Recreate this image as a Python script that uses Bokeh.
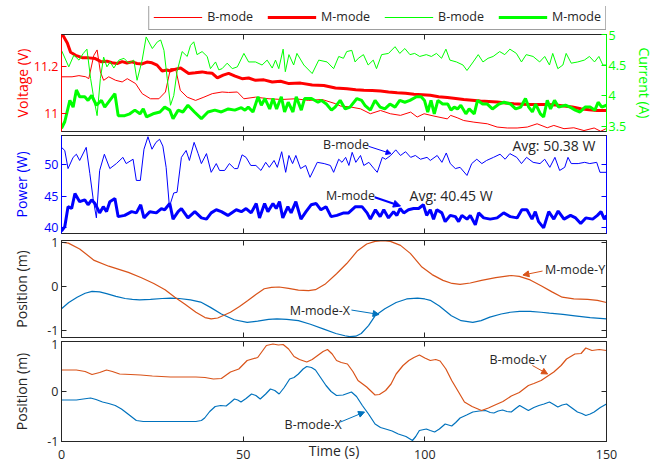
from bokeh.plotting import figure
from bokeh.layouts import column
from bokeh.models import (Range1d, LinearAxis, FixedTicker, NumeralTickFormatter,
                          Legend, LegendItem, Label, Arrow, NormalHead)
from bokeh.embed import file_html
from bokeh.resources import INLINE

# ---------------- data (time s, value) ----------------
M_VOLT = [(0, 11.336), (0.5, 11.33), (1.6, 11.30), (2.5, 11.26), (3.9, 11.247), (5.7, 11.237), (7.5, 11.236),
          (9.3, 11.233), (11, 11.219), (12.5, 11.222), (13.9, 11.215), (15.3, 11.212), (16.7, 11.22), (18, 11.214),
          (19.4, 11.219), (20.8, 11.212), (22.2, 11.21), (23.5, 11.218), (24.9, 11.215), (26.3, 11.205),
          (27.7, 11.18), (29, 11.184), (30, 11.18), (31.4, 11.188), (32.8, 11.193), (34, 11.18), (35, 11.169),
          (36.8, 11.172), (38.7, 11.176), (40, 11.172), (41.5, 11.17), (42.9, 11.15), (44.5, 11.162), (46, 11.17),
          (47.8, 11.158), (49.7, 11.147), (51.5, 11.15), (53.4, 11.14), (55.7, 11.142), (58, 11.133),
          (60.3, 11.136), (62.6, 11.126), (65.8, 11.128), (69, 11.12), (72.2, 11.118), (75.4, 11.107),
          (78.6, 11.104), (81, 11.10), (83.2, 11.097), (85.5, 11.096), (87.8, 11.094), (90, 11.09),
          (92.4, 11.087), (94.7, 11.085), (97, 11.08), (99.3, 11.078), (101.5, 11.076), (103.8, 11.07),
          (106.2, 11.066), (108.5, 11.062), (110.7, 11.058), (113, 11.055), (115.3, 11.051), (117.6, 11.049),
          (119.9, 11.047), (122.2, 11.043), (124.5, 11.04), (126.8, 11.038), (129.1, 11.036), (131.4, 11.037),
          (133.7, 11.036), (136, 11.034), (138.3, 11.03), (140.6, 11.026), (142.9, 11.018), (145.2, 11.014),
          (147.4, 11.011), (150, 11.011)]

B_VOLT = [(0, 11.155), (2.9, 11.155), (4.8, 11.16), (6.7, 11.155), (7.5, 11.147), (8.9, 11.247), (9.8, 11.27),
          (10.7, 11.176), (11.6, 11.14), (13, 11.155), (14.9, 11.14), (16.7, 11.133), (18.1, 11.147),
          (20.4, 11.126), (22.2, 11.083), (24.5, 11.061), (26.8, 11.061), (28.6, 11.09), (30, 11.19),
          (31.4, 11.19), (32.7, 11.097), (34.6, 11.068), (36.9, 11.054), (39.2, 11.068), (41.5, 11.083),
          (44.2, 11.09), (46, 11.088), (48.4, 11.09), (50.2, 11.061), (53.4, 11.068), (57.1, 11.061),
          (60.7, 11.058), (64.4, 11.061), (68, 11.054), (71.7, 11.058), (75.4, 11.04), (76.8, 11.03),
          (79.5, 11.026), (82.3, 11.018), (85, 10.997), (87.8, 11.011), (90.5, 10.997), (93.3, 10.99),
          (96.1, 11.004), (97.9, 10.983), (99.8, 10.997), (102.5, 10.987), (106.2, 10.975), (107.1, 10.99),
          (108.9, 10.98), (110.7, 10.968), (113.5, 10.961), (117.2, 10.954), (119.9, 10.94), (122.7, 10.936),
          (125.4, 10.936), (128.2, 10.94), (130.9, 10.954), (133.7, 10.937), (135.5, 10.947), (138.3, 10.933),
          (141, 10.937), (143.8, 10.925), (146.6, 10.936), (148.4, 10.922), (150, 10.934)]

B_CURR = [(0, 4.74), (2, 4.47), (3.4, 4.66), (4.8, 4.58), (6, 4.69), (7, 4.76), (8, 4.28), (8.9, 3.95), (9.8, 3.67),
          (10.7, 4.28), (11.6, 4.63), (12.5, 4.47), (13.4, 4.55), (14.4, 4.45), (15.8, 4.58), (17.2, 4.61),
          (18.5, 4.53), (19.9, 4.58), (20.8, 4.25), (22.2, 4.58), (23.3, 4.96), (25, 4.77), (26.4, 4.88),
          (27.3, 4.91), (28.2, 4.74), (29.1, 4.28), (30, 3.84), (30.9, 4.0), (31.8, 4.39), (33.2, 4.72),
          (34.6, 4.64), (35.5, 4.82), (36.4, 4.88), (37.3, 4.67), (38.7, 4.72), (40.1, 4.64), (41, 4.44),
          (42.4, 4.55), (43.3, 4.42), (44.2, 4.44), (45.6, 4.53), (47, 4.44), (48.4, 4.47), (50.2, 4.69),
          (51.5, 4.55), (53.4, 4.55), (55.2, 4.5), (56.6, 4.58), (58, 4.45), (58.9, 4.58), (59.8, 4.44),
          (61, 4.76), (61.6, 4.39), (62.6, 4.67), (63.9, 4.5), (64.8, 4.69), (66.7, 4.5), (69, 4.36),
          (70.8, 4.58), (73.1, 4.55), (74.9, 4.44), (76.3, 4.64), (77.6, 4.61), (78.5, 4.72), (79.9, 4.74),
          (80.8, 4.55), (81.7, 4.61), (83.1, 4.67), (84.4, 4.5), (85.8, 4.58), (86.7, 4.44), (88.1, 4.67),
          (90, 4.69), (91.8, 4.8), (93.1, 4.69), (94.5, 4.77), (95.9, 4.67), (97.2, 4.69), (98.6, 4.64),
          (100.4, 4.67), (101.8, 4.64), (103.2, 4.69), (104.6, 4.61), (105.8, 4.76), (106.9, 4.58),
          (108.7, 4.55), (110.5, 4.5), (111.6, 4.41), (113.3, 4.55), (114.7, 4.67), (116, 4.55), (117.4, 4.61),
          (118.8, 4.64), (120.6, 4.72), (122, 4.67), (123.4, 4.76), (125.2, 4.69), (126.6, 4.55), (127.9, 4.67),
          (129.8, 4.64), (131.6, 4.55), (133, 4.64), (134.3, 4.5), (135.2, 4.69), (136.6, 4.44), (138, 4.5),
          (138.9, 4.69), (140.3, 4.53), (142.1, 4.55), (143.9, 4.58), (145.3, 4.64), (146.7, 4.55),
          (147.9, 4.64), (149, 4.5), (150, 4.5)]

M_CURR = [(0, 3.46), (0.9, 3.57), (2.3, 3.92), (3.2, 3.81), (4.1, 4.09), (5, 3.98), (6.4, 3.98), (7.3, 3.92),
          (8.3, 4.0), (9.6, 3.84), (11, 3.92), (11.9, 3.81), (13.3, 3.92), (14.7, 4.03), (15.6, 3.67),
          (17.4, 3.67), (18.8, 3.7), (20.2, 3.76), (21.6, 3.7), (22.5, 3.78), (23.4, 3.65), (25.2, 3.7),
          (27.1, 3.73), (28.4, 3.81), (29.8, 3.76), (30.7, 3.62), (32.1, 3.76), (33.4, 3.73), (34.8, 3.84),
          (36.6, 3.73), (38.5, 3.62), (40.3, 3.73), (42.2, 3.76), (44, 3.73), (45.9, 3.78), (47.7, 3.76),
          (49.5, 3.8), (50.5, 3.76), (51.4, 3.81), (52.7, 3.73), (54.1, 3.98), (55, 3.84), (56, 3.95),
          (57.3, 3.78), (58.2, 3.95), (59.2, 3.78), (60.5, 3.98), (61.4, 3.73), (62.4, 3.89), (63.7, 3.73),
          (64.6, 3.98), (66, 3.76), (66.9, 3.95), (68.8, 3.95), (70.6, 3.89), (71.5, 3.92), (72.9, 3.86),
          (74.3, 3.76), (75.3, 3.81), (76.7, 3.92), (78.1, 3.78), (79.4, 3.81), (81.3, 3.95), (82.6, 3.92),
          (83.5, 3.84), (85, 3.76), (86.3, 3.92), (87.7, 3.81), (89, 3.78), (90.4, 3.86), (91.8, 3.81),
          (93.1, 3.92), (94.5, 3.89), (95.9, 3.92), (97.7, 3.98), (99, 3.98), (99.9, 3.92), (100.8, 3.73),
          (101.7, 3.92), (102.6, 3.7), (103.6, 3.92), (104.9, 3.86), (106.3, 3.86), (107.2, 3.76), (108.1, 3.81),
          (109, 3.78), (109.9, 3.84), (111.3, 3.7), (112.2, 3.78), (113.6, 3.7), (114.5, 3.92), (115.9, 3.86),
          (117.2, 3.86), (118.6, 3.78), (120.4, 3.86), (121.8, 3.89), (123.6, 3.86), (125, 3.78), (126.4, 3.81),
          (127.7, 3.95), (128.6, 3.81), (129.6, 3.73), (130.5, 3.86), (131.8, 3.7), (132.7, 3.65), (133.7, 3.92),
          (134.6, 3.78), (135.7, 3.92), (136.8, 3.81), (138.7, 3.84), (140, 3.81), (141.4, 3.76), (142.7, 3.73),
          (144.1, 3.81), (145.5, 3.81), (146.8, 3.76), (147.7, 3.89), (148.7, 3.81), (150, 3.84)]

B_POW = [(0, 52.8), (0.9, 52.3), (1.8, 49.4), (3.2, 51.2), (4.1, 51.7), (5, 50.7), (6.8, 52.8), (7.8, 48.6),
         (8.7, 44.6), (9.6, 41.5), (10.5, 49.1), (11.8, 51.7), (13.3, 49.4), (15.1, 50.2), (16.9, 51.2),
         (17.8, 50.2), (19.7, 50.9), (20.6, 47.5), (21.7, 47.5), (22.7, 52.5), (23.8, 54.5), (24.9, 52.5),
         (26, 53.6), (27, 54.1), (27.9, 53.0), (28.8, 49.6), (29.7, 43.3), (30.9, 45.5), (31.8, 45.6),
         (33, 51.2), (34.3, 52.3), (35.2, 50.7), (36.5, 53.6), (37.6, 51.8), (38.5, 50.2), (39.9, 51.8),
         (41.2, 48.8), (42.6, 50.2), (43.5, 49.1), (44.9, 49.1), (46.2, 50.2), (47.6, 49.4), (48.5, 49.4),
         (49.7, 51.6), (50.8, 51.2), (52.1, 49.9), (53.5, 49.9), (54.9, 49.1), (56.2, 50.4), (57.2, 49.6),
         (58.5, 50.7), (59.4, 49.6), (60.6, 52.1), (61.7, 48.8), (62.6, 51.5), (63.6, 50.2), (64.5, 51.5),
         (65.8, 49.4), (67.2, 49.9), (68.4, 48.0), (70.4, 50.4), (72.3, 50.2), (74, 49.9), (74.9, 48.8),
         (76.3, 50.9), (77.2, 50.4), (78.2, 51.2), (79.1, 49.9), (80, 52.0), (81, 50.4), (82.3, 51.5),
         (83.2, 49.9), (84.6, 50.4), (86, 49.4), (86.9, 48.8), (88.3, 51.2), (89.2, 50.9), (90.6, 51.5),
         (92, 52.4), (93.3, 51.5), (94.7, 52.1), (96.1, 51.2), (97.4, 51.5), (98.8, 50.9), (100.6, 51.2),
         (101.5, 50.7), (103.4, 51.5), (104.7, 50.4), (105.9, 51.9), (107, 50.2), (108.4, 49.4), (109.7, 49.6),
         (111.6, 48.3), (112.9, 50.2), (114.3, 50.9), (115.7, 50.2), (117, 50.7), (118.9, 51.2), (120.7, 51.7),
         (122.1, 50.9), (123.4, 51.8), (125.3, 51.2), (126.6, 50.2), (128, 51.2), (129.8, 50.4), (131.7, 50.2),
         (133, 50.9), (134.4, 49.6), (135.8, 51.2), (137.1, 49.1), (138.5, 49.6), (139.4, 51.2), (140.3, 50.2),
         (142.2, 50.2), (144, 50.4), (145.4, 50.2), (147.3, 50.4), (148.2, 48.8), (150, 48.8)]

M_POW = [(0, 39.4), (0.9, 40.1), (1.8, 43.3), (2.8, 43.0), (3.7, 45.4), (5, 44.1), (6.4, 44.4), (7.3, 43.6),
         (8.3, 44.4), (9.2, 43.8), (10.5, 42.3), (11.5, 43.3), (12.4, 42.5), (13.3, 44.1), (14.7, 44.6),
         (15.6, 41.7), (17.4, 41.9), (19.3, 42.5), (20.6, 42.3), (21.8, 43.6), (22.7, 41.5), (24.3, 42.5),
         (26.1, 42.3), (27.5, 43.0), (28.4, 42.8), (29.8, 43.8), (30.7, 41.3), (32.1, 42.5), (33, 43.0),
         (34.8, 41.5), (36.7, 42.5), (38.5, 41.5), (39.9, 41.3), (41.2, 42.3), (42.6, 42.8), (44, 42.5),
         (45.8, 41.9), (48.1, 42.8), (49.5, 42.5), (50.8, 43.0), (52.2, 42.3), (53.6, 43.8), (54.5, 41.5),
         (55.9, 43.8), (56.8, 42.5), (58.2, 43.8), (59.1, 43.0), (60, 44.1), (60.9, 41.5), (62.3, 43.3),
         (63.2, 42.3), (64.5, 44.1), (65.9, 41.3), (67.3, 42.5), (68.7, 43.6), (70.1, 43.8), (71.4, 42.8),
         (72.8, 43.3), (74.2, 41.7), (75.8, 41.9), (77.7, 42.3), (79, 42.3), (80.9, 43.3), (82.7, 43.3),
         (84.1, 42.3), (85, 41.3), (86.4, 42.8), (87.7, 41.7), (88.7, 42.8), (90, 41.5), (91.4, 42.5),
         (92.3, 41.9), (93.2, 43.0), (94.2, 42.3), (95.5, 42.8), (96.9, 43.0), (98.3, 43.0), (99.6, 43.6),
         (100.5, 41.9), (101.5, 42.8), (102.4, 41.3), (103.3, 42.8), (104.7, 42.3), (105.6, 40.9), (107, 41.9),
         (108.4, 41.7), (109.3, 40.9), (110.2, 41.9), (111.6, 41.3), (112.5, 41.9), (113.9, 40.4), (114.8, 42.3),
         (116.2, 41.5), (118, 41.3), (119.9, 41.5), (121.7, 42.3), (123.5, 41.7), (125.4, 41.5), (126.7, 42.8),
         (128.1, 42.8), (129.5, 41.3), (130.4, 42.5), (131.3, 40.9), (132.7, 39.9), (134.1, 42.5), (135.5, 41.3),
         (136.7, 42.6), (138.3, 41.3), (140.1, 41.9), (141.5, 41.5), (142.9, 40.6), (144.3, 41.5), (146.2, 41.3),
         (147.5, 41.9), (148.5, 42.5), (149.4, 41.3), (150, 41.9)]

M_Y = [(0, 1.0), (1.9, 0.98), (5, 0.85), (9, 0.59), (13, 0.46), (18.4, 0.32), (22, 0.2), (25.4, 0.07), (28.5, -0.07),
       (31.2, -0.24), (34, -0.4), (37, -0.58), (39.5, -0.7), (41.2, -0.73), (43, -0.71), (46.5, -0.58),
       (49, -0.45), (51.2, -0.32), (53.5, -0.18), (55.8, -0.05), (57.8, -0.02), (59.9, -0.01), (62.5, -0.04),
       (65.2, -0.08), (68, -0.09), (69.9, -0.07), (72.5, 0.05), (75.7, 0.29), (78.5, 0.52), (81.5, 0.81),
       (84, 0.96), (86.3, 1.02), (88.5, 1.035), (90.5, 1.02), (93.3, 0.93), (96, 0.75), (99.2, 0.44),
       (102, 0.27), (105, 0.14), (107.5, 0.07), (109.7, 0.05), (112.5, 0.08), (115.6, 0.14), (119.5, 0.2),
       (123.8, 0.25), (126, 0.23), (129, 0.15), (132, 0.02), (135, -0.12), (137.8, -0.24), (141, -0.28),
       (144.8, -0.29), (147.5, -0.31), (150, -0.36)]

M_X = [(0, -0.5), (2, -0.36), (4.3, -0.24), (6.5, -0.15), (8.4, -0.11), (10.5, -0.12), (12.4, -0.16), (15, -0.22),
       (17.5, -0.27), (19.5, -0.29), (21.5, -0.3), (24.5, -0.29), (27.7, -0.27), (30, -0.26), (32.4, -0.27),
       (35.5, -0.3), (38.3, -0.35), (41, -0.47), (44, -0.62), (47.5, -0.75), (51.1, -0.81), (54, -0.78),
       (57, -0.74), (59.3, -0.73), (62, -0.74), (65.2, -0.77), (68.5, -0.85), (72.2, -0.96), (75.5, -1.06),
       (78, -1.11), (79.3, -1.13), (81, -1.12), (82.5, -1.06), (84.5, -0.88), (86.3, -0.66), (89, -0.5),
       (92.1, -0.36), (95, -0.28), (98, -0.26), (100, -0.28), (101.5, -0.31), (104, -0.44), (107.3, -0.66),
       (110, -0.77), (113.2, -0.81), (115.5, -0.77), (117.9, -0.69), (121, -0.62), (123.5, -0.58),
       (126.1, -0.56), (129, -0.56), (132, -0.58), (134.3, -0.6), (138, -0.63), (141.3, -0.66), (145.5, -0.7),
       (150, -0.73)]

B_Y = [(0, 0.43), (4.1, 0.43), (6.5, 0.4), (8.4, 0.34), (10.5, 0.38), (12.4, 0.43), (14, 0.4), (16, 0.35), (19, 0.34),
       (21.8, 0.33), (25, 0.31), (30, 0.29), (34, 0.29), (37, 0.29), (39.5, 0.28), (41.8, 0.25), (44, 0.26),
       (46.5, 0.39), (48.8, 0.45), (51.1, 0.62), (54, 0.68), (55.2, 0.8), (56.4, 0.92), (58.2, 0.95),
       (59.7, 0.93), (61, 0.94), (62.5, 0.85), (64, 0.7), (65.5, 0.64), (67.5, 0.59), (69, 0.64), (70.5, 0.72),
       (72, 0.8), (73.2, 0.84), (74.5, 0.75), (75.7, 0.62), (77, 0.58), (78.7, 0.55), (80.2, 0.4), (81.6, 0.22),
       (84, 0.09), (86.3, -0.07), (87.5, -0.06), (89.2, 0.02), (90.7, 0.15), (92.1, 0.35), (94, 0.52),
       (95.6, 0.62), (97, 0.68), (98.5, 0.73), (100, 0.67), (101.5, 0.62), (103, 0.64), (104.2, 0.61),
       (105.8, 0.45), (107.4, 0.22), (109.2, 0.0), (110.9, -0.21), (113, -0.3), (115.6, -0.38), (117.5, -0.33),
       (119, -0.28), (121.5, -0.2), (123.8, -0.09), (126, -0.02), (128.5, 0.12), (130, 0.16), (132, 0.22),
       (135.5, 0.39), (137.5, 0.52), (139, 0.65), (141.3, 0.75), (143, 0.76), (144.3, 0.87), (146, 0.82),
       (148, 0.84), (150, 0.82)]

B_X = [(0, -0.17), (4.1, -0.17), (6, -0.15), (8, -0.13), (9.5, -0.16), (11.3, -0.21), (13, -0.24), (14.8, -0.28),
       (16.5, -0.35), (18.3, -0.45), (20.6, -0.58), (22.5, -0.6), (24.2, -0.6), (30, -0.6), (34, -0.6), (37, -0.6),
       (38.5, -0.58), (39.4, -0.53), (40.8, -0.4), (42.3, -0.3), (43.8, -0.28), (45.3, -0.29), (46.5, -0.22),
       (47.6, -0.15), (48.5, -0.17), (49.4, -0.21), (50.8, -0.14), (52.3, -0.05), (53.5, -0.08), (54.7, -0.15),
       (56.2, -0.05), (57.5, 0.05), (58.7, 0.02), (59.9, -0.05), (61.3, 0.08), (62.8, 0.25), (64, 0.28),
       (65.2, 0.35), (66.5, 0.45), (67.5, 0.5), (68.8, 0.48), (69.9, 0.43), (71.3, 0.28), (72.8, 0.12),
       (74.2, 0.0), (75.7, -0.08), (77.5, -0.07), (79.8, -0.01), (81.2, -0.1), (82.8, -0.28), (84.5, -0.45),
       (86.3, -0.65), (87.8, -0.72), (89.2, -0.75), (91, -0.79), (92.7, -0.85), (94.8, -0.9), (96.6, -0.98),
       (97.5, -0.9), (98.5, -0.78), (100.4, -0.75), (101.5, -0.78), (102.7, -0.81), (104, -0.75), (105.6, -0.65),
       (107.4, -0.69), (108.5, -0.62), (109.7, -0.53), (111.5, -0.47), (113.2, -0.41), (115, -0.39),
       (116.7, -0.38), (118, -0.42), (119, -0.43), (120.2, -0.39), (121.4, -0.37), (122.6, -0.4), (123.8, -0.41),
       (125, -0.34), (126.1, -0.28), (127.3, -0.33), (128.5, -0.38), (130, -0.32), (131.4, -0.28),
       (132.8, -0.25), (134.3, -0.21), (135.5, -0.26), (136.6, -0.31), (137.8, -0.27), (139, -0.25),
       (140.5, -0.33), (142, -0.41), (143.2, -0.44), (144.3, -0.48), (145.5, -0.45), (146.6, -0.41),
       (148.3, -0.32), (150, -0.25)]

X_TICKS = [0, 50, 100, 150]
VOLT_TICKS = [11, 11.2]
CURR_TICKS = [3.5, 4, 4.5, 5]
POW_TICKS = [40, 45, 50]
POS_TICKS = [-1, 0, 1]
LEGEND_LABELS = ["B-mode", "M-mode", "B-mode", "M-mode"]

# ---------------- style ----------------
FONT = "Open Sans"
DARK = "#262626"
RED = "#ff0000"
GREEN = "#00ff00"
BLUE = "#0000ff"
C_BLUE = "#0072BD"
C_ORANGE = "#D95319"
FW = 545
TICK_FS = "12.5px"
LAB_FS = "14px"


def xy(pairs):
    t, v = zip(*pairs)
    return list(t), list(v)


def make_fig(fh, top, bottom, yr):
    p = figure(frame_width=FW, frame_height=fh, min_border_left=61, min_border_right=60,
               min_border_top=top, min_border_bottom=bottom,
               x_range=Range1d(0, 150), y_range=Range1d(*yr),
               x_axis_location=None, y_axis_location=None,
               output_backend="svg", toolbar_location=None)
    p.grid.visible = False
    p.outline_line_color = DARK
    p.outline_line_width = 1
    p.background_fill_color = "white"
    p.border_fill_color = "white"
    return p


def axis(ticks, color=DARK, labels=True, label=None, standoff=3, label_standoff=5,
         y_range_name=None):
    kw = {}
    if y_range_name:
        kw["y_range_name"] = y_range_name
    ax = LinearAxis(ticker=FixedTicker(ticks=ticks), formatter=NumeralTickFormatter(format="0.[0]"), **kw)
    ax.axis_line_color = color
    ax.major_tick_line_color = color
    ax.major_tick_in = 5
    ax.major_tick_out = 0
    ax.minor_tick_in = 0
    ax.minor_tick_out = 0
    ax.major_label_standoff = standoff
    ax.major_label_text_font = FONT
    ax.major_label_text_color = color
    if labels:
        ax.major_label_text_font_size = TICK_FS
    else:
        ax.major_label_text_font_size = "0px"
        ax.major_label_standoff = 0
        ax.major_label_overrides = {tk: "" for tk in ticks}
    if label:
        ax.axis_label = label
        ax.axis_label_text_font = FONT
        ax.axis_label_text_font_size = LAB_FS
        ax.axis_label_text_font_style = "normal"
        ax.axis_label_text_color = color
        ax.axis_label_standoff = label_standoff
    return ax


def add_x_mirror(p, bottom_labels=False):
    p.add_layout(axis(X_TICKS, labels=False), "above")
    if bottom_labels:
        p.add_layout(axis(X_TICKS, labels=True, standoff=8, label="Time (s)", label_standoff=-21), "below")
    else:
        p.add_layout(axis(X_TICKS, labels=False), "below")


def note(p, x, y, text, size="12.5px"):
    p.add_layout(Label(x=x, y=y, text=text, text_font=FONT, text_font_size=size, text_color=DARK,
                       text_baseline="middle", text_align="left"))


def arrow(p, x0, y0, x1, y1, color, width=1, size=6):
    p.add_layout(Arrow(end=NormalHead(size=size, fill_color=color, line_color=color, line_width=1),
                       x_start=x0, y_start=y0, x_end=x1, y_end=y1, line_color=color, line_width=width))


# ---------------- legend strip (same series, drawn outside its visible range) ----------------
p0 = figure(frame_width=FW, frame_height=24, min_border_left=61, min_border_right=60,
            min_border_top=6, min_border_bottom=0, x_range=Range1d(0, 150), y_range=Range1d(0, 1),
            x_axis_location=None, y_axis_location=None, output_backend="svg", toolbar_location=None)
p0.grid.visible = False
p0.outline_line_color = None
styles = [(B_VOLT, RED, 1), (M_VOLT, RED, 3), (B_CURR, GREEN, 1), (M_CURR, GREEN, 3)]
items = []
for lab, (series, c, w) in zip(LEGEND_LABELS, styles):
    t, v = xy(series)
    r = p0.line(t, v, line_color=c, line_width=w)
    items.append(LegendItem(label=lab, renderers=[r]))
legend = Legend(items=items, orientation="horizontal", location="bottom_right", glyph_width=49,
                glyph_height=12, label_height=12, label_standoff=5, spacing=14, padding=4, margin=0,
                border_line_color="#404040", border_line_width=1, background_fill_color="white",
                background_fill_alpha=1.0, label_text_font=FONT, label_text_font_size="12.5px",
                label_text_color=DARK)
p0.add_layout(legend)

# ---------------- panel 1: voltage / current ----------------
p1 = make_fig(97, 4, 2, (10.921, 11.336))
p1.extra_y_ranges = {"cur": Range1d(3.41, 5.0)}
add_x_mirror(p1)
p1.add_layout(axis(VOLT_TICKS, color=RED, label="Voltage (V)", label_standoff=-1), "left")
p1.add_layout(axis(CURR_TICKS, color=GREEN, label="Current (A)", standoff=2, label_standoff=6,
                   y_range_name="cur"), "right")
t, v = xy(B_VOLT)
p1.line(t, v, line_color=RED, line_width=1)
t, v = xy(M_VOLT)
p1.line(t, v, line_color=RED, line_width=3)
t, v = xy(B_CURR)
p1.line(t, v, line_color=GREEN, line_width=1, y_range_name="cur")
t, v = xy(M_CURR)
p1.line(t, v, line_color=GREEN, line_width=3, y_range_name="cur")

# ---------------- panel 2: power ----------------
p2 = make_fig(98, 2, 3, (39.0, 54.7))
add_x_mirror(p2)
p2.add_layout(axis(POW_TICKS, color=BLUE, label="Power (W)", label_standoff=10), "left")
p2.add_layout(axis(POW_TICKS, color=BLUE, labels=False), "right")
t, v = xy(B_POW)
p2.line(t, v, line_color=BLUE, line_width=1)
t, v = xy(M_POW)
p2.line(t, v, line_color=BLUE, line_width=3)
note(p2, 72, 53.3, "B-mode")
arrow(p2, 84.5, 52.97, 90.7, 51.8, BLUE, 1, 5)
note(p2, 124.1, 53.1, "Avg: 50.38 W", "14px")
note(p2, 72.8, 45.15, "M-mode")
arrow(p2, 86.2, 44.8, 93.3, 43.4, BLUE, 2, 7)
note(p2, 95.8, 45.15, "Avg:  40.45 W", "14px")

# ---------------- panel 3: M-mode position ----------------
p3 = make_fig(97, 4, 2, (-1.15, 1.04))
add_x_mirror(p3)
p3.add_layout(axis(POS_TICKS, label="Position (m)", label_standoff=13), "left")
p3.add_layout(axis(POS_TICKS, labels=False), "right")
t, v = xy(M_X)
p3.line(t, v, line_color=C_BLUE, line_width=1.2)
t, v = xy(M_Y)
p3.line(t, v, line_color=C_ORANGE, line_width=1.2)
note(p3, 133.1, 0.38, "M-mode-Y")
arrow(p3, 132.4, 0.35, 127.0, 0.26, C_ORANGE, 1, 6)
note(p3, 62.8, -0.54, "M-mode-X")
arrow(p3, 79.8, -0.53, 87.4, -0.63, C_BLUE, 1, 6)

# ---------------- panel 4: B-mode position ----------------
p4 = make_fig(100, 2, 20, (-1, 1))
add_x_mirror(p4, bottom_labels=True)
p4.add_layout(axis(POS_TICKS, label="Position (m)", label_standoff=13), "left")
p4.add_layout(axis(POS_TICKS, labels=False), "right")
t, v = xy(B_X)
p4.line(t, v, line_color=C_BLUE, line_width=1.2)
t, v = xy(B_Y)
p4.line(t, v, line_color=C_ORANGE, line_width=1.2)
note(p4, 117.8, 0.65, "B-mode-Y")
arrow(p4, 129.6, 0.52, 133.8, 0.35, C_ORANGE, 1, 6)
note(p4, 61.4, -0.66, "B-mode-X")
arrow(p4, 76.8, -0.61, 83.4, -0.41, C_BLUE, 1, 6)

layout = column(p0, p1, p2, p3, p4, spacing=0)
open("out.html", "w").write(file_html(layout, INLINE))
